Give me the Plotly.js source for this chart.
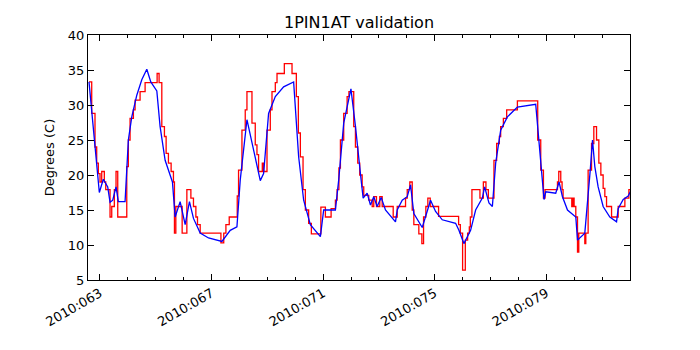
<html>
<head>
    <script src="https://cdn.plot.ly/plotly-3.0.1.min.js"></script>
    <style>
        body { margin: 0; padding: 0; background: white; }
        #chart { width: 700px; height: 350px; }
    </style>
</head>
<body>
<div id="chart"></div>
<script>
    // day of year 2010 (fractional) and temperature in degrees C
    const measDays = [62.606, 62.703, 62.821, 62.882, 62.94, 63.001, 63.062, 63.155, 63.206, 63.36,
        63.421, 63.514, 63.575, 63.636, 63.96, 64.017, 64.078, 64.197, 64.258, 64.437,
        64.617, 65.048, 65.119, 65.216, 65.31, 65.371, 65.453, 65.55, 65.633, 65.669,
        65.719, 65.945, 66.114, 66.258, 66.351, 66.437, 66.495, 66.592, 67.335, 67.436,
        67.514, 67.633, 67.92, 67.967, 68.089, 68.207, 68.268, 68.448, 68.566, 68.627,
        68.685, 68.818, 68.865, 68.987, 69.105, 69.166, 69.285, 69.346, 69.608, 69.884,
        70.039, 70.111, 70.183, 70.279, 70.362, 70.48, 70.577, 70.918, 71.08, 71.285,
        71.439, 71.5, 71.565, 71.619, 71.737, 71.859, 71.924, 72.096, 72.157, 72.24,
        72.311, 72.398, 72.455, 72.635, 72.757, 72.814, 72.911, 73.03, 73.116, 73.511,
        73.655, 73.953, 74.014, 74.107, 74.193, 74.251, 74.43, 74.538, 74.599, 74.681,
        74.753, 74.839, 75.138, 75.856, 75.917, 75.999, 76.096, 76.179, 76.24, 76.276,
        76.333, 76.621, 76.743, 76.836, 76.922, 77.123, 77.22, 77.317, 77.364, 77.461,
        77.579, 77.963, 78.692, 78.8, 78.897, 78.954, 79.4, 79.446, 79.518, 79.565,
        79.601, 79.913, 79.949, 79.996, 80.057, 80.118, 80.164, 80.38, 80.416, 80.499,
        80.621, 80.703, 80.8, 80.883, 80.955, 81.037, 81.098, 81.159, 81.339, 81.576,
        81.816, 81.96, 82.05];
    const measTemp = [33.3, 28.8, 24.0, 21.7, 20.2, 19.0, 20.5, 19.0, 17.9, 14.0,
        15.5, 17.9, 20.5, 14.0, 21.2, 25.0, 28.1, 29.3, 30.7, 31.9,
        33.2, 34.5, 33.2, 26.9, 25.5, 23.1, 21.7, 20.5, 19.0, 11.7,
        15.5, 11.7, 17.9, 16.7, 15.5, 14.0, 12.9, 11.7, 10.3, 11.7,
        12.9, 14.0, 17.0, 20.7, 26.4, 29.3, 31.9, 27.4, 24.3, 22.9,
        20.5, 21.7, 20.5, 26.4, 29.3, 31.9, 33.2, 34.5, 35.9, 34.5,
        31.2, 26.0, 22.6, 17.9, 15.0, 13.1, 11.6, 15.4, 14.0, 15.2,
        16.4, 17.9, 21.0, 25.0, 28.8, 31.2, 31.9, 26.9, 24.0, 21.7,
        20.0, 18.3, 17.1, 16.4, 15.5, 16.9, 15.5, 16.9, 15.5, 14.0,
        15.5, 16.7, 17.9, 19.0, 15.0, 12.9, 11.6, 10.2, 14.0, 15.5,
        16.7, 15.5, 14.1, 12.9, 11.7, 6.4, 10.7, 11.7, 12.6, 14.0,
        17.9, 16.7, 19.0, 17.9, 16.7, 22.1, 24.5, 25.5, 26.9, 28.1,
        29.3, 30.6, 25.0, 20.7, 16.7, 17.9, 19.0, 20.5, 19.0, 17.9,
        16.7, 15.5, 16.7, 15.5, 14.0, 9.0, 11.7, 10.2, 11.7, 20.7,
        24.5, 26.9, 25.0, 21.7, 20.0, 18.1, 16.9, 15.5, 14.0, 15.5,
        16.7, 17.9, 17.9];

    const modelDays = [62.606, 62.976, 63.119, 63.277, 63.36, 63.457, 63.575, 63.658, 63.899, 64.017,
        64.139, 64.319, 64.498, 64.678, 64.821, 65.037, 65.155, 65.335, 65.597, 65.694,
        65.873, 66.053, 66.207, 66.351, 66.592, 66.89, 67.371, 67.669, 67.909, 68.028,
        68.268, 68.505, 68.746, 68.865, 69.044, 69.285, 69.583, 69.942, 70.121, 70.301,
        70.541, 70.9, 71.019, 71.439, 71.558, 71.737, 71.996, 72.157, 72.276, 72.355,
        72.434, 72.577, 72.696, 72.814, 72.936, 73.08, 73.234, 73.593, 73.655, 73.834,
        74.014, 74.132, 74.251, 74.552, 74.85, 75.03, 75.27, 75.748, 75.867, 76.046,
        76.286, 76.466, 76.706, 76.789, 76.944, 77.066, 77.184, 77.364, 77.604, 77.963,
        78.62, 78.918, 78.98, 79.338, 79.457, 79.579, 79.759, 80.057, 80.118, 80.38,
        80.575, 80.656, 80.739, 80.858, 81.037, 81.277, 81.518, 81.576, 81.756, 81.935,
        82.05];
    const modelTemp = [33.3, 17.5, 19.4, 18.3, 16.1, 16.4, 18.3, 16.2, 16.2, 25.0,
        28.3, 31.4, 33.6, 35.1, 33.3, 32.0, 26.9, 22.1, 19.0, 14.0,
        16.2, 12.9, 16.2, 13.8, 11.7, 11.0, 10.5, 12.1, 12.6, 19.3,
        27.9, 23.6, 19.2, 20.2, 28.8, 31.2, 32.6, 33.3, 22.6, 16.4,
        12.9, 11.2, 15.0, 15.0, 19.3, 27.4, 32.3, 27.0, 22.0, 19.5,
        16.7, 17.4, 15.7, 16.9, 15.5, 16.8, 15.0, 13.3, 15.0, 16.4,
        16.9, 18.6, 14.5, 12.5, 16.4, 14.8, 13.6, 13.1, 12.1, 10.2,
        12.1, 15.0, 16.7, 18.3, 16.0, 15.5, 21.7, 26.4, 28.3, 29.7,
        30.1, 16.5, 17.6, 17.4, 19.0, 16.9, 15.0, 14.0, 10.7, 11.7,
        20.7, 25.0, 21.2, 18.3, 15.5, 14.0, 13.3, 15.2, 16.5, 17.0,
        17.9];

    const tickDays = [63, 67, 71, 75, 79];
    const tickLabels = ['2010:063', '2010:067', '2010:071', '2010:075', '2010:079'];

    const font = 'DejaVu Sans, sans-serif';

    const data = [
        {
            x: measDays, y: measTemp, type: 'scatter', mode: 'lines',
            line: { color: '#ff0000', width: 1.3, shape: 'hv' },
            name: 'data'
        },
        {
            x: modelDays, y: modelTemp, type: 'scatter', mode: 'lines',
            line: { color: '#0000ff', width: 1.3 },
            name: 'model'
        }
    ];

    const layout = {
        width: 700,
        height: 350,
        margin: { l: 88, r: 70, t: 35, b: 70 },
        paper_bgcolor: 'white',
        plot_bgcolor: 'white',
        showlegend: false,
        font: { family: font, size: 13, color: 'black' },
        title: {
            text: '1PIN1AT validation',
            font: { family: font, size: 16, color: 'black' },
            x: 0.5, xref: 'paper',
            y: 0.937, yref: 'container', yanchor: 'middle'
        },
        xaxis: {
            range: [62.57, 82.0],
            tickmode: 'array',
            tickvals: tickDays,
            ticktext: tickLabels,
            tickangle: -30,
            ticks: 'inside',
            ticklen: 6,
            tickcolor: 'black',
            showline: true, linecolor: 'black', linewidth: 1,
            mirror: 'ticks',
            showgrid: false, zeroline: false,
            minor: { tick0: 63, dtick: 1, ticks: 'inside', ticklen: 3, tickcolor: 'black', showgrid: false },
            tickfont: { family: font, size: 13, color: 'black' }
        },
        yaxis: {
            range: [5, 40],
            dtick: 5,
            ticks: 'inside',
            ticklen: 6,
            tickcolor: 'black',
            showline: true, linecolor: 'black', linewidth: 1,
            mirror: 'ticks',
            showgrid: false, zeroline: false,
            tickfont: { family: font, size: 13, color: 'black' },
            title: { text: 'Degrees (C)', standoff: 10, font: { family: font, size: 13, color: 'black' } }
        }
    };

    Plotly.newPlot('chart', data, layout, { displayModeBar: false, staticPlot: true });
</script>
</body>
</html>
